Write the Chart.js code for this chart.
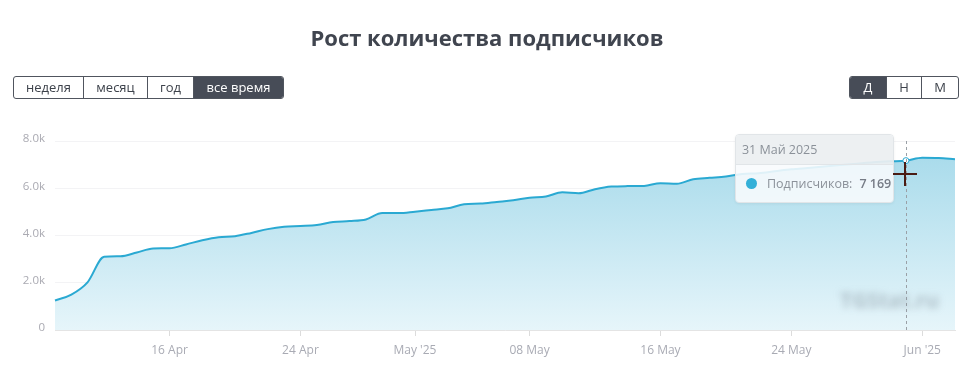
<!DOCTYPE html>
<html>
<head>
<meta charset="utf-8">
<script src="https://cdn.jsdelivr.net/npm/chart.js@4.4.1/dist/chart.umd.min.js"></script>
<style>
    body { margin: 0; background: #fff; font-family: "Open Sans", sans-serif; }
    #wrap { position: relative; width: 964px; height: 381px; overflow: hidden; }
    #chart { position: absolute; left: 0; top: 0; }
    h1 { position: absolute; top: 22px; left: 0; width: 974px; margin: 0; text-align: center;
         font-size: 22px; font-weight: 700; color: #40454f; }
    .grp { position: absolute; top: 76px; height: 21px; display: flex; border: 1px solid #50555e; border-radius: 3px; overflow: hidden; }
    .grp div { font-size: 13px; line-height: 21px; color: #3d424b; text-align: center; border-left: 1px solid #50555e; }
    .grp div:first-child { border-left: none; }
    .grp div.on { background: #474c57; color: #fff; }
    #tip { position: absolute; display: none; width: 157px; border: 1px solid #e1e5e8; border-radius: 4px; overflow: hidden;
           box-shadow: 0 1px 3px rgba(0,0,0,0.06); font-size: 12.5px; }
    #tip .head { height: 29px; line-height: 29px; padding-left: 6px; background: rgba(236,239,241,0.93); color: #8b9199;
                 border-bottom: 1px solid #e1e5e8; }
    #tip .body { height: 37px; line-height: 37px; padding-left: 10px; background: rgba(248,251,253,0.88); color: #8b9199; white-space: nowrap; }
    #tip .dot { display: inline-block; width: 11px; height: 11px; border-radius: 50%; background: #33b0d8; vertical-align: -1px; margin-right: 10px; }
    #tip b { color: #767c86; font-weight: 600; margin-left: 7px; }
    #wm { position: absolute; left: 840px; top: 286px; font-size: 21px; font-weight: 700; color: rgba(120,132,145,0.45); filter: blur(3.5px); }
    .cur { position: absolute; background: #4a1c14; }
</style>
</head>
<body>
<div id="wrap">
    <canvas id="chart" width="964" height="381"></canvas>
    <h1>Рост количества подписчиков</h1>
    <div class="grp" style="left:13px">
        <div style="width:69px">неделя</div>
        <div style="width:63px">месяц</div>
        <div style="width:45px">год</div>
        <div style="width:89px" class="on">все время</div>
    </div>
    <div class="grp" style="left:849px">
        <div style="width:36px" class="on">Д</div>
        <div style="width:34px">Н</div>
        <div style="width:36px">М</div>
    </div>
    <div id="wm">TGStat.ru</div>
    <div id="tip"><div class="head"></div><div class="body"><span class="dot"></span><span class="lbl">Подписчиков:</span><b></b></div></div>
    <div class="cur" style="left:893px;top:173px;width:24px;height:2px"></div>
    <div class="cur" style="left:904px;top:162px;width:2px;height:24px"></div>
</div>
<script>
// --------------------- DATA ------------------------
const days = [
    '2025-04-09','2025-04-10','2025-04-11','2025-04-12','2025-04-13','2025-04-14','2025-04-15','2025-04-16',
    '2025-04-17','2025-04-18','2025-04-19','2025-04-20','2025-04-21','2025-04-22','2025-04-23','2025-04-24',
    '2025-04-25','2025-04-26','2025-04-27','2025-04-28','2025-04-29','2025-04-30','2025-05-01','2025-05-02',
    '2025-05-03','2025-05-04','2025-05-05','2025-05-06','2025-05-07','2025-05-08','2025-05-09','2025-05-10',
    '2025-05-11','2025-05-12','2025-05-13','2025-05-14','2025-05-15','2025-05-16','2025-05-17','2025-05-18',
    '2025-05-19','2025-05-20','2025-05-21','2025-05-22','2025-05-23','2025-05-24','2025-05-25','2025-05-26',
    '2025-05-27','2025-05-28','2025-05-29','2025-05-30','2025-05-31','2025-06-01','2025-06-02','2025-06-03'
];
const subscribers = [
    1250, 1500, 2030, 3100, 3120, 3280, 3450, 3460,
    3620, 3800, 3930, 3970, 4110, 4270, 4370, 4400,
    4440, 4570, 4610, 4680, 4950, 4950, 5010, 5080,
    5150, 5320, 5350, 5420, 5490, 5600, 5650, 5830,
    5790, 5960, 6070, 6090, 6100, 6210, 6190, 6380,
    6440, 6500, 6600, 6640, 6720, 6800, 6860, 6920,
    6980, 7040, 7100, 7140, 7169, 7290, 7280, 7230
];
const tickDays  = ['2025-04-16', '2025-04-24', '2025-05-01', '2025-05-08', '2025-05-16', '2025-05-24', '2025-06-01'];
const tickTexts = ['16 Apr', '24 Apr', "May '25", '08 May', '16 May', '24 May', "Jun '25"];
const yTicks = [0, 2000, 4000, 6000, 8000];
const ruMonths = ['Янв', 'Фев', 'Мар', 'Апр', 'Май', 'Июн', 'Июл', 'Авг', 'Сен', 'Окт', 'Ноя', 'Дек'];
const activeIndex = 52;

// --------------------- HELPERS ------------------------
function ruDate(s) {
    let p = s.split('-');
    return parseInt(p[2], 10) + ' ' + ruMonths[parseInt(p[1], 10) - 1] + ' ' + p[0];
}
function spaced(n) {
    return String(n).replace(/\B(?=(\d{3})+(?!\d))/g, ' ');
}

// --------------------- TOOLTIP ------------------------
function externalTip(context) {
    let t = context.tooltip;
    let el = document.getElementById('tip');
    if (t.opacity === 0 || !t.dataPoints || !t.dataPoints.length) {
        el.style.display = 'none';
        return;
    }
    let dp = t.dataPoints[0];
    el.querySelector('.head').textContent = ruDate(days[dp.dataIndex]);
    el.querySelector('b').textContent = spaced(dp.raw);
    el.style.display = 'block';
    el.style.left = (t.caretX - 13 - 158) + 'px';
    el.style.top = (t.caretY - 27) + 'px';
}

// dashed line under the hovered point
const hoverLine = {
    id: 'hoverLine',
    afterDatasetsDraw(chart) {
        let act = chart.getActiveElements();
        if (!act.length) return;
        let x = act[0].element.x;
        let ctx = chart.ctx;
        ctx.save();
        ctx.strokeStyle = '#9aa0a6';
        ctx.lineWidth = 1;
        ctx.setLineDash([3, 3]);
        ctx.beginPath();
        ctx.moveTo(Math.round(x) + 0.5, chart.chartArea.top);
        ctx.lineTo(Math.round(x) + 0.5, chart.chartArea.bottom);
        ctx.stroke();
        ctx.restore();
    }
};

// --------------------- CHART ------------------------
const ctx = document.getElementById('chart').getContext('2d');
let chart = new Chart(ctx, {
    type: 'line',
    data: {
        labels: days,
        datasets: [{
            label: 'Подписчиков',
            data: subscribers,
            borderColor: '#2aa9d2',
            borderWidth: 2,
            fill: true,
            backgroundColor: function (c) {
                let a = c.chart.chartArea;
                if (!a) return '#cdebf4';
                let g = c.chart.ctx.createLinearGradient(0, a.top, 0, a.bottom);
                g.addColorStop(0, '#a4d9ea');
                g.addColorStop(1, '#e6f5fa');
                return g;
            },
            pointRadius: 0,
            pointHoverRadius: 3,
            pointHoverBackgroundColor: '#fff',
            pointHoverBorderColor: '#2aa9d2',
            pointHoverBorderWidth: 1,
            cubicInterpolationMode: 'monotone'
        }]
    },
    options: {
        responsive: false,
        animation: false,
        events: [],
        interaction: { mode: 'index', intersect: false },
        layout: { padding: { top: 141, right: 9, left: 0, bottom: 0 } },
        plugins: {
            legend: { display: false },
            tooltip: { enabled: false, external: externalTip }
        },
        scales: {
            x: {
                offset: false,
                afterFit: s => { s.height = 51; },
                grid: { drawOnChartArea: false, drawTicks: true, tickLength: 6, tickColor: '#dcdcdc' },
                border: { display: true, color: '#e4e4e4' },
                ticks: {
                    autoSkip: false,
                    maxRotation: 0,
                    padding: 7,
                    color: '#a9abb4',
                    font: { family: 'Open Sans', size: 12 },
                    callback: function (v, i) {
                        let k = tickDays.indexOf(days[i]);
                        return k >= 0 ? tickTexts[k] : null;
                    }
                }
            },
            y: {
                min: 0,
                max: 8000,
                afterFit: s => { s.width = 55; },
                afterBuildTicks: s => { s.ticks = yTicks.map(v => ({ value: v })); },
                grid: { color: '#f3f3f5', drawTicks: false },
                border: { display: false },
                ticks: {
                    padding: 10,
                    labelOffset: -2,
                    color: '#aaaab2',
                    font: { family: 'Open Sans', size: 11.5 },
                    callback: v => v === 0 ? '0' : (v / 1000).toFixed(1) + 'k'
                }
            }
        }
    },
    plugins: [hoverLine]
});

let pt = chart.getDatasetMeta(0).data[activeIndex];
chart.setActiveElements([{ datasetIndex: 0, index: activeIndex }]);
chart.tooltip.setActiveElements([{ datasetIndex: 0, index: activeIndex }], { x: pt.x, y: pt.y });
chart.update();
</script>
</body>
</html>
